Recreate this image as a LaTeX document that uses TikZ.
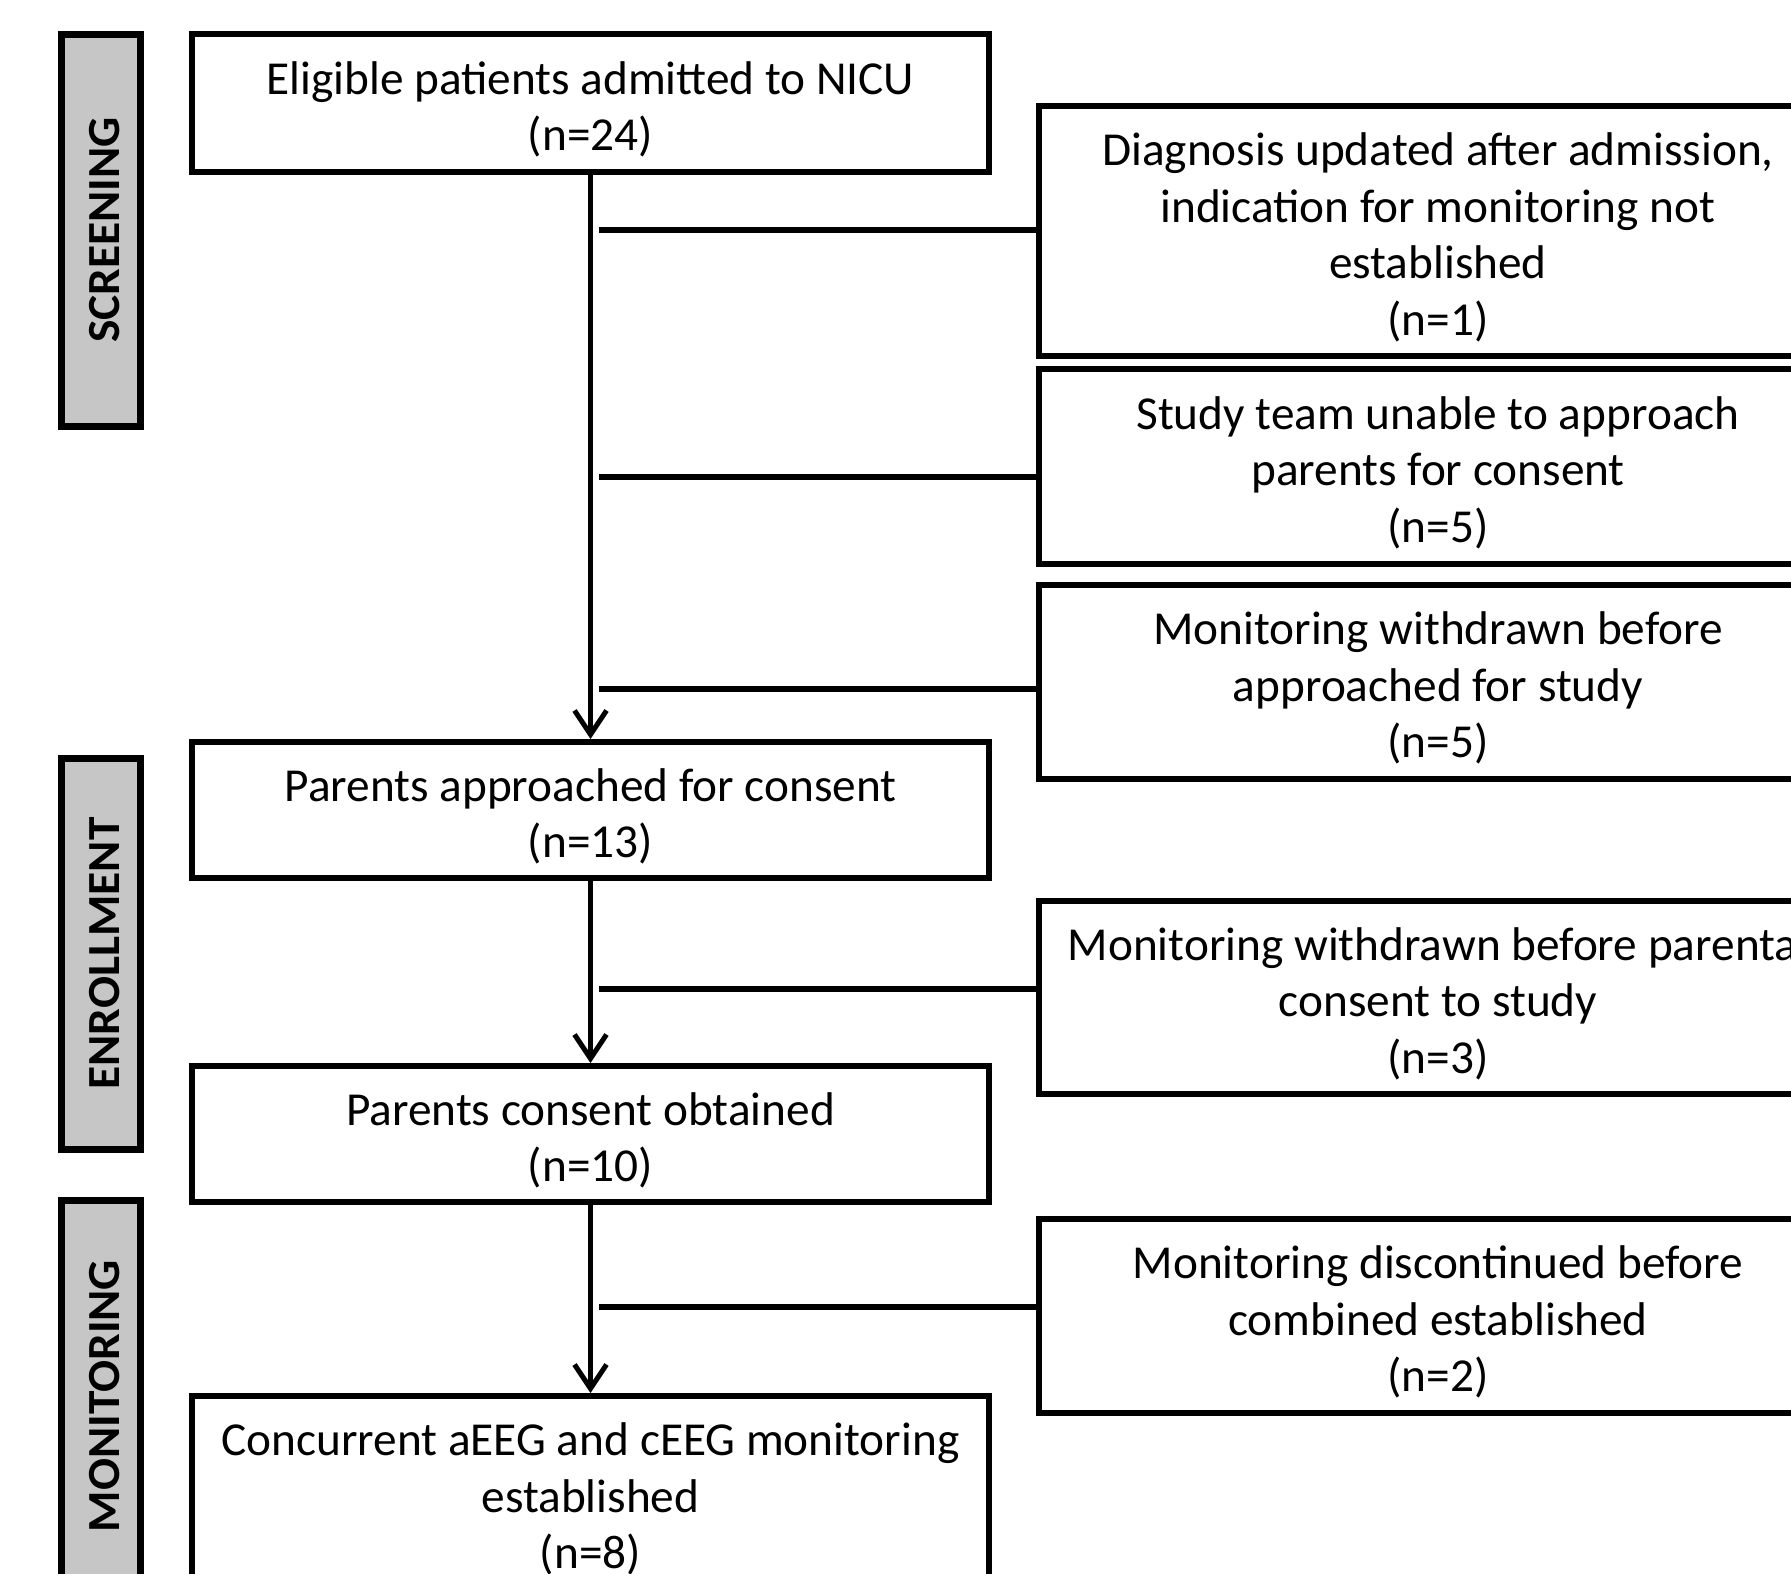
\documentclass[tikz,border=0pt]{standalone}
\usepackage{fontspec}
\setmainfont{Carlito}
\usetikzlibrary{arrows.meta}
\newcommand{\boxtext}[1]{\raisebox{-8pt}[\height][\depth]{\begin{tabular}{@{}c@{}}#1\end{tabular}}}
\tikzset{
  mainbox/.style={draw=black, line width=6pt, fill=white, minimum width=797pt, inner sep=0pt, font=\fontsize{47.3}{56.5}\selectfont},
  sidebox/.style={draw=black, line width=6pt, fill=white, minimum width=798pt, inner sep=0pt, font=\fontsize{47.3}{56.5}\selectfont},
  phasebar/.style={draw=black, line width=7pt, fill=gray!45, minimum width=79pt, inner sep=0pt},
  phaselabel/.style={rotate=90, inner sep=0pt, font=\fontsize{46}{46}\selectfont\bfseries},
  flowarrow/.style={line width=5pt, -{Straight Barb[length=24pt,width=32pt,line width=5pt]}},
  branch/.style={line width=6pt}
}
\begin{document}
\begin{tikzpicture}[x=1pt,y=-1pt]
\useasboundingbox (0,0) rectangle (1791,1574);
\clip (0,0) rectangle (1791,1574);
\fill[white] (0,0) rectangle (1791,1574);

% phase bars
\node[phasebar, minimum height=392pt] (pb1) at (100.5,230) {};
\node[phaselabel] (pl1) at ([xshift=4pt]pb1.center) {\scalebox{1.03}[1]{SCREENING}};
\node[phasebar, minimum height=391pt] (pb2) at (100.5,953.5) {};
\node[phaselabel] (pl2) at ([xshift=4pt]pb2.center) {\scalebox{1.03}[1]{ENROLLMENT}};
\node[phasebar, minimum height=392pt] (pb3) at (100.5,1396) {};
\node[phaselabel] (pl3) at ([xshift=4pt]pb3.center) {\scalebox{1.03}[1]{MONITORING}};

% main boxes
\node[mainbox, minimum height=138pt] (b1) at (590.5,103) {\boxtext{Eligible patients admitted to NICU\\(n=24)}};
\node[mainbox, minimum height=136pt] (b2) at (590.5,810) {\boxtext{Parents approached for consent\\(n=13)}};
\node[mainbox, minimum height=136pt] (b3) at (590.5,1134) {\boxtext{Parents consent obtained\\(n=10)}};
\node[mainbox, minimum height=194pt] (b4) at (590.5,1493) {\boxtext{Concurrent aEEG and cEEG monitoring\\established\\(n=8)}};

% side boxes
\node[sidebox, minimum height=250pt] (r1) at (1438,231) {\boxtext{Diagnosis updated after admission,\\indication for monitoring not\\established\\(n=1)}};
\node[sidebox, minimum height=195pt] (r2) at (1438,466.5) {\boxtext{Study team unable to approach\\parents for consent\\(n=5)}};
\node[sidebox, minimum height=194pt] (r3) at (1438,682) {\boxtext{Monitoring withdrawn before\\approached for study\\(n=5)}};
\node[sidebox, minimum height=193pt] (r4) at (1438,997.5) {\boxtext{Monitoring withdrawn before parental\\consent to study\\(n=3)}};
\node[sidebox, minimum height=194pt] (r5) at (1438,1316) {\boxtext{Monitoring discontinued before\\combined established\\(n=2)}};

% branch start points
\coordinate (c1) at (599,230);
\coordinate (c2) at (599,477);
\coordinate (c3) at (599,689);
\coordinate (c4) at (599,989);
\coordinate (c5) at (599,1307);

% connectors
\draw[flowarrow] (b1.south) -- (b2.north);
\draw[flowarrow] (b2.south) -- (b3.north);
\draw[flowarrow] (b3.south) -- (b4.north);

\draw[branch] (c1) -- (c1 -| r1.west);
\draw[branch] (c2) -- (c2 -| r2.west);
\draw[branch] (c3) -- (c3 -| r3.west);
\draw[branch] (c4) -- (c4 -| r4.west);
\draw[branch] (c5) -- (c5 -| r5.west);
\end{tikzpicture}
\end{document}
